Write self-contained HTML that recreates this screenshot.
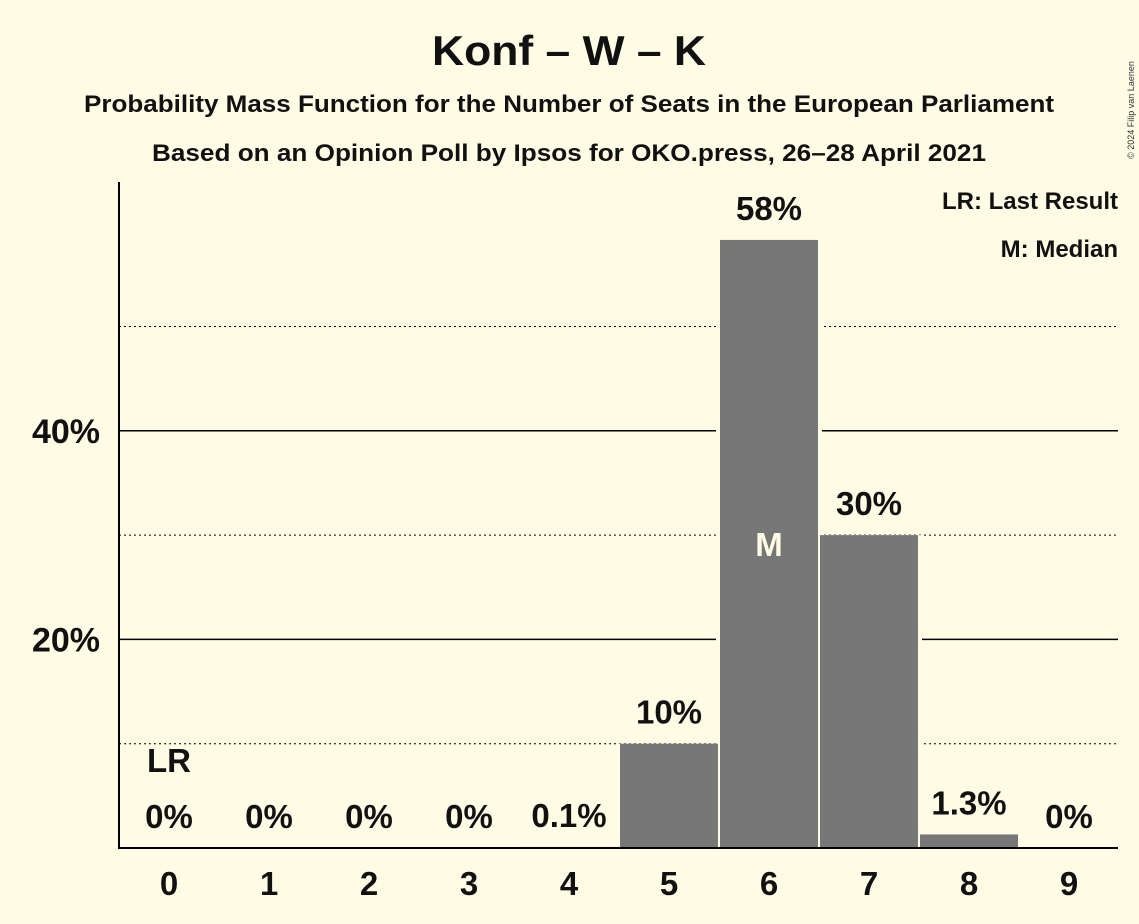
<!DOCTYPE html>
<html><head><meta charset="utf-8"><style>
html,body{margin:0;padding:0;background:#fefce5;}
svg{display:block;font-family:"Liberation Sans",sans-serif;}
</style></head><body>
<svg id="chart" width="1139" height="924" viewBox="0 0 1139 924">
<rect width="1139" height="924" fill="#fefce5"/>
<text x="569" y="65" text-anchor="middle" font-size="42" font-weight="bold" fill="#111" textLength="274" lengthAdjust="spacingAndGlyphs">Konf – W – K</text>
<text x="569" y="112" text-anchor="middle" font-size="24" font-weight="bold" fill="#111" textLength="970" lengthAdjust="spacingAndGlyphs">Probability Mass Function for the Number of Seats in the European Parliament</text>
<text x="569" y="161" text-anchor="middle" font-size="24" font-weight="bold" fill="#111" textLength="834" lengthAdjust="spacingAndGlyphs">Based on an Opinion Poll by Ipsos for OKO.press, 26–28 April 2021</text>
<text x="1134" y="110" transform="rotate(-90 1134 110)" text-anchor="middle" font-size="9" fill="#333">© 2024 Filip van Laenen</text>
<g id="grid"></g>
<g id="bars"></g>
<g id="labels"></g>
<line x1="119" y1="182" x2="119" y2="848" stroke="#000" stroke-width="2"/>
<line x1="118" y1="848" x2="1118" y2="848" stroke="#000" stroke-width="2"/>
<text x="1118" y="209" text-anchor="end" font-size="24" font-weight="bold" fill="#111">LR: Last Result</text>
<text x="1118" y="257" text-anchor="end" font-size="24" font-weight="bold" fill="#111">M: Median</text>
</svg>
<script>
const categories=[0,1,2,3,4,5,6,7,8,9];
const values=[0,0,0,0,0.1,10.0,58.3,30.0,1.3,0];
const valueLabels=["0%","0%","0%","0%","0.1%","10%","58%","30%","1.3%","0%"];
const yTicks=[20,40];
const yTickLabels=["20%","40%"];
const dottedTicks=[10,30,50];
const lastResult=0, median=6;
const NS="http://www.w3.org/2000/svg";
const y=v=>848-v*10.43;
const x=c=>169+c*100;
function mk(t,a,p){const e=document.createElementNS(NS,t);for(const k in a)e.setAttribute(k,a[k]);p.appendChild(e);return e;}
const grid=document.getElementById('grid'),bars=document.getElementById('bars'),labels=document.getElementById('labels');
dottedTicks.forEach(v=>{const l=mk('line',{x1:119,x2:1118,y1:y(v),y2:y(v),stroke:'#000','stroke-width':1,'stroke-dasharray':'2,3'},grid);

});
yTicks.forEach((v,i)=>{const l=mk('line',{x1:119,x2:1118,y1:y(v),y2:y(v),stroke:'#000','stroke-width':1.5},grid);


const t=mk('text',{x:100,y:y(v)+12,'text-anchor':'end','font-size':34,'font-weight':'bold',fill:'#111'},grid);t.textContent=yTickLabels[i];

});
categories.forEach((c,i)=>{const v=values[i];
if(v>0.5){const bg=mk('rect',{x:x(c)-53,y:y(v),width:106,height:848-y(v),fill:'#fefce5'},bars);

}
});
categories.forEach((c,i)=>{const v=values[i];
if(v>0){const r=mk('rect',{x:x(c)-49,y:y(v),width:98,height:848-y(v),fill:'#777'},bars);

}
const ly=Math.min(y(v)-20,829);
const t=mk('text',{x:x(c),y:ly,'text-anchor':'middle','font-size':33,'font-weight':'bold',fill:'#111'},labels);t.textContent=valueLabels[i];


const xt=mk('text',{x:x(c),y:895,'text-anchor':'middle','font-size':33,'font-weight':'bold',fill:'#111'},labels);xt.textContent=c;


if(c===median){const m=mk('text',{x:x(c),y:y(values[i]/2)+12,'text-anchor':'middle','font-size':33,'font-weight':'bold',fill:'#fefce5'},labels);m.textContent='M';

}
if(c===lastResult){const m=mk('text',{x:x(c),y:772,'text-anchor':'middle','font-size':33,'font-weight':'bold',fill:'#111'},labels);m.textContent='LR';

}
});
</script>
</body></html>
